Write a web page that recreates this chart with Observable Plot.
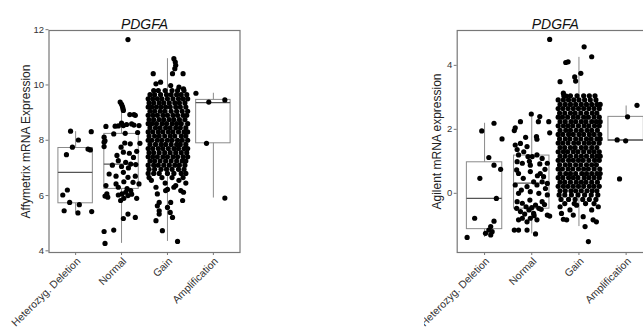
<!DOCTYPE html>
<html>
<head>
<meta charset="utf-8">
<script src="https://cdn.jsdelivr.net/npm/d3@7"></script>
<script src="https://cdn.jsdelivr.net/npm/@observablehq/plot@0.6"></script>
<style>
  html, body { margin: 0; padding: 0; background: #fff; }
  body { width: 643px; height: 334px; overflow: hidden; position: relative; }
  .panel { position: absolute; top: 0; overflow: hidden; height: 334px; }
  .panel svg { max-width: none !important; }
</style>
</head>
<body>
<div id="left" class="panel" style="left:0px;width:250px;"></div>
<div id="right" class="panel" style="left:424px;width:219px;"></div>
<script>
const categories = ["Heterozyg. Deletion", "Normal", "Gain", "Amplification"];
const title = "PDGFA";

// ---------- Affymetrix panel ----------
const affyTicks = [4, 6, 8, 10, 12];
const affyQ1  = [5.72, 6.24, 7.30, 7.89];
const affyMed = [6.84, 7.14, 8.00, 9.36];
const affyQ3  = [7.72, 8.23, 8.70, 9.46];
const affyLo  = [5.37, 4.27, 4.34, 5.91];
const affyHi  = [8.31, 9.38, 10.95, 9.70];

// points: [offset from category centre, value]
const affyHet = [[-0.11,8.33],[0.34,8.31],[0.06,8.01],[-0.20,7.48],[-0.07,7.75],[0.27,7.68],[0.32,7.65],
  [-0.28,6.02],[-0.18,6.20],[-0.13,5.75],[0.08,5.67],[-0.25,5.45],[0.05,5.37],[0.35,5.42]];
const affyNormal = [[0.14,11.64],
  [-0.03,9.38],[0.00,9.30],[0.02,9.22],[0.03,9.15],[0.04,9.08],
  [0.18,8.93],[0.27,8.93],[0.30,8.90],
  [-0.34,8.50],[-0.14,8.51],[-0.07,8.52],[0.04,8.53],[0.11,8.57],[0.22,8.59],[0.38,8.53],[0.27,8.55],[0.00,8.62],
  [-0.17,8.23],[0.08,8.25],[0.35,8.28],
  [-0.38,8.11],[-0.38,7.93],[-0.38,7.77],[-0.36,7.98],
  [-0.01,7.75],[0.19,7.87],[0.40,7.89],[0.07,7.90],
  [0.04,7.57],[0.17,7.53],[0.26,7.38],[-0.10,7.45],[0.33,7.60],
  [-0.07,7.26],[0.09,7.20],[0.20,7.14],[0.31,7.12],[-0.20,7.10],[0.00,7.05],[0.15,7.00],
  [-0.27,6.78],[0.04,6.84],[0.14,6.66],[-0.12,6.70],[0.30,6.70],
  [-0.34,6.36],[-0.12,6.42],[-0.07,6.30],[0.25,6.48],[0.38,6.42],[0.05,6.50],
  [-0.32,6.06],[-0.07,6.02],[0.01,6.06],[0.09,6.12],[0.14,6.00],[0.20,6.18],[0.12,6.25],[0.22,6.05],
  [-0.30,5.94],[-0.02,5.82],[0.33,5.90],[-0.36,5.98],[0.05,5.90],
  [0.14,5.33],[0.04,5.17],[0.30,5.21],
  [-0.38,4.70],[-0.17,4.75],[-0.36,4.27]];
const affyGainScatter = [[0.14,10.95],[0.17,10.83],[0.18,10.71],[0.16,10.59],[0.11,10.41],[-0.31,10.41],[0.34,10.41],
  [-0.25,10.04],[-0.15,10.10],[0.07,9.98],[0.25,9.92],[0.35,9.86],
  [-0.35,6.55],[0.40,6.45],[-0.05,6.45],[0.25,6.55],
  [-0.25,6.30],[-0.22,6.06],[-0.04,6.18],[0.00,6.22],[0.14,6.30],[0.18,6.36],[0.29,6.18],[0.35,6.12],
  [-0.18,5.75],[-0.22,5.63],[0.07,5.75],[0.33,5.82],[-0.18,5.45],[0.00,5.57],[0.06,5.39],[-0.18,5.33],
  [0.11,5.21],[-0.25,5.09],[-0.11,4.73],[0.22,4.34]];
const affyGainRows = [
  [9.80,[-0.30,-0.20,-0.05,0.10,0.22,0.36]],
  [9.65,[-0.38,-0.28,-0.15,-0.02,0.08,0.20,0.30,0.42]],
  [9.50,[-0.42,-0.32,-0.22,-0.12,0.00,0.12,0.24,0.34,0.44]],
  [9.35,[-0.40,-0.30,-0.18,-0.08,0.04,0.16,0.26,0.38]],
  [9.20,[-0.42,-0.34,-0.24,-0.14,-0.04,0.06,0.18,0.28,0.40]],
  [9.05,[-0.38,-0.28,-0.16,-0.06,0.08,0.20,0.32,0.44]],
  [8.90,[-0.42,-0.32,-0.22,-0.10,0.00,0.12,0.22,0.34,0.42]],
  [8.75,[-0.40,-0.30,-0.18,-0.08,0.04,0.14,0.26,0.38]],
  [8.60,[-0.42,-0.34,-0.24,-0.12,-0.02,0.10,0.20,0.30,0.44]],
  [8.45,[-0.38,-0.26,-0.16,-0.04,0.06,0.18,0.28,0.40]],
  [8.30,[-0.42,-0.32,-0.20,-0.10,0.02,0.12,0.24,0.36,0.44]],
  [8.15,[-0.40,-0.28,-0.18,-0.06,0.06,0.16,0.30,0.40]],
  [8.00,[-0.42,-0.34,-0.22,-0.12,0.00,0.10,0.22,0.32,0.44]],
  [7.85,[-0.38,-0.26,-0.14,-0.04,0.08,0.20,0.28,0.40]],
  [7.70,[-0.42,-0.32,-0.20,-0.10,0.02,0.14,0.24,0.36,0.44]],
  [7.55,[-0.40,-0.30,-0.18,-0.06,0.06,0.18,0.30,0.42]],
  [7.40,[-0.42,-0.32,-0.22,-0.10,0.00,0.12,0.22,0.34,0.44]],
  [7.25,[-0.38,-0.28,-0.16,-0.04,0.08,0.20,0.32,0.40]],
  [7.10,[-0.42,-0.30,-0.20,-0.08,0.04,0.16,0.26,0.38]],
  [6.95,[-0.40,-0.28,-0.14,-0.02,0.10,0.24,0.36]],
  [6.80,[-0.42,-0.30,-0.18,0.00,0.14,0.30,0.40]],
  [6.65,[-0.40,-0.12,0.10,0.34]]];
const affyAmp = [[-0.38,9.70],[-0.10,9.38],[0.25,9.46],[-0.15,7.89],[0.25,5.91]];

// ---------- Agilent panel ----------
const agilTicks = [0, 2, 4];
const agilQ1  = [-1.12, -0.48, 0.55, 1.64];
const agilMed = [-0.16, 0.32, 1.35, 1.67];
const agilQ3  = [0.97, 1.18, 2.05, 2.39];
const agilLo  = [-1.38, -1.27, -1.04, 1.64];
const agilHi  = [2.19, 2.48, 4.25, 2.73];

const agilHet = [[-0.37,-1.38],[-0.06,1.95],[0.20,2.19],[0.37,1.70],[0.09,1.12],[-0.10,0.47],[0.20,0.88],[0.34,0.75],
  [0.25,-0.16],[-0.21,-0.78],[0.20,-0.87],[0.13,-1.04],[0.09,-1.15],[0.02,-1.25],[0.13,-1.30],[0.16,-1.20]];
const agilNormal = [[0.38,4.81],
  [-0.01,2.48],[0.17,2.40],[0.14,2.24],[0.36,2.24],[-0.24,2.24],[-0.35,2.05],[-0.37,1.96],[0.38,1.89],
  [0.10,1.77],[0.11,1.69],[-0.13,1.75],[-0.24,1.56],[-0.35,1.51],[-0.31,1.37],[-0.10,1.46],[-0.17,1.30],
  [-0.28,1.20],[-0.08,1.15],[0.01,1.15],[0.11,1.20],[0.22,1.09],[-0.05,1.00],
  [-0.31,0.99],[-0.20,0.94],[-0.03,0.88],[0.17,0.92],[0.33,0.94],[0.28,0.75],
  [-0.32,0.73],[-0.28,0.62],[-0.03,0.68],[0.18,0.62],[0.25,0.52],[0.12,0.55],
  [-0.18,0.47],[0.04,0.36],[0.22,0.36],[0.33,0.31],
  [-0.35,0.26],[-0.10,0.21],[0.11,0.26],[0.29,0.15],[-0.22,0.10],
  [-0.28,0.00],[-0.03,0.05],[0.15,0.00],[0.33,-0.05],
  [-0.31,-0.26],[-0.20,-0.31],[-0.04,-0.21],[0.08,-0.37],[0.22,-0.26],[0.27,-0.35],
  [-0.32,-0.47],[-0.24,-0.57],[-0.06,-0.52],[0.04,-0.63],[0.15,-0.47],[0.33,-0.68],[0.38,-0.71],
  [0.00,-0.45],[-0.12,-0.42],[0.20,-0.50],[0.05,-0.70],[-0.15,-0.65],
  [-0.28,-0.83],[-0.20,-0.78],[-0.10,-0.89],[-0.03,-0.78],[0.11,-0.83],
  [-0.37,-1.15],[-0.28,-1.15],[-0.10,-1.15],[0.08,-1.27]];
const agilGainScatter = [[0.11,4.58],[0.27,4.27],[-0.28,4.09],[-0.23,4.11],[-0.09,3.64],[0.04,3.75],[-0.07,3.51],
  [-0.40,3.49],[-0.33,3.13],[-0.27,3.04],
  [-0.33,-0.81],[-0.26,-0.83],[-0.37,-0.63],[-0.12,-0.68],[0.13,-1.04],[0.20,-1.51],[0.30,-0.83],[0.37,-0.89],
  [0.09,-0.73],[-0.19,-0.52],[0.27,-0.52],[0.41,-0.42],[-0.40,-0.42],[-0.05,-0.37]];
const agilGainRows = [
  [3.05,[-0.32,-0.18,-0.04,0.10,0.22,0.34]],
  [2.92,[-0.44,-0.33,-0.22,-0.11,0.00,0.12,0.24,0.36]],
  [2.78,[-0.40,-0.29,-0.18,-0.07,0.05,0.16,0.27,0.38,0.45]],
  [2.65,[-0.44,-0.34,-0.23,-0.12,-0.01,0.10,0.21,0.32,0.43]],
  [2.51,[-0.41,-0.30,-0.18,-0.08,0.04,0.16,0.28,0.38]],
  [2.38,[-0.44,-0.35,-0.24,-0.12,-0.02,0.10,0.20,0.32,0.43]],
  [2.24,[-0.40,-0.29,-0.17,-0.07,0.05,0.15,0.27,0.37,0.45]],
  [2.11,[-0.44,-0.33,-0.23,-0.13,-0.01,0.11,0.21,0.33,0.43]],
  [1.97,[-0.40,-0.28,-0.18,-0.06,0.05,0.17,0.27,0.39]],
  [1.84,[-0.44,-0.34,-0.22,-0.12,0.00,0.10,0.22,0.32,0.44]],
  [1.70,[-0.41,-0.29,-0.19,-0.07,0.04,0.16,0.26,0.38,0.45]],
  [1.57,[-0.44,-0.34,-0.23,-0.11,-0.01,0.11,0.21,0.31,0.43]],
  [1.43,[-0.40,-0.30,-0.18,-0.08,0.05,0.15,0.27,0.38]],
  [1.30,[-0.44,-0.33,-0.24,-0.12,-0.02,0.10,0.22,0.32,0.43]],
  [1.16,[-0.40,-0.29,-0.18,-0.06,0.05,0.16,0.28,0.38,0.45]],
  [1.03,[-0.44,-0.34,-0.22,-0.12,-0.01,0.09,0.21,0.33,0.43]],
  [0.89,[-0.41,-0.29,-0.19,-0.07,0.04,0.16,0.27,0.37]],
  [0.76,[-0.44,-0.35,-0.23,-0.13,-0.01,0.10,0.20,0.32,0.44]],
  [0.62,[-0.40,-0.28,-0.18,-0.07,0.06,0.16,0.27,0.38,0.45]],
  [0.49,[-0.44,-0.34,-0.22,-0.12,-0.02,0.11,0.21,0.32,0.43]],
  [0.35,[-0.40,-0.30,-0.18,-0.06,0.05,0.15,0.27,0.39]],
  [0.22,[-0.44,-0.33,-0.23,-0.12,-0.01,0.10,0.22,0.32,0.43]],
  [0.08,[-0.40,-0.29,-0.17,-0.07,0.05,0.17,0.28,0.38]],
  [-0.05,[-0.42,-0.30,-0.16,-0.02,0.12,0.26,0.40]],
  [-0.19,[-0.38,-0.22,-0.08,0.08,0.22,0.36]],
  [-0.32,[-0.30,-0.10,0.14,0.32]]];
const agilAmp = [[0.23,2.75],[0.03,2.39],[-0.19,1.67],[-0.01,1.64],[-0.14,0.45]];

// ---------- helpers ----------
const toPts = (ci, arr) => arr.map(([d, v]) => ({x: ci + d, y: v}));
const fromRows = (ci, rows) => rows.flatMap(([v, ds]) => ds.map(d => ({x: ci + d, y: v})));
const FONT = "'Liberation Sans', Arial, Helvetica, sans-serif";

function panel({width, marginLeft, marginRight, yDomain, yTicks, yLabel, labelDx, points, q1, med, q3, lo, hi}) {
  const idx = [0, 1, 2, 3];
  const hw = 0.375;
  return Plot.plot({
    width, height: 334,
    marginLeft, marginRight, marginTop: 30, marginBottom: 82,
    style: {fontFamily: FONT, background: "transparent", color: "#333", maxWidth: "none"},
    x: {domain: [-0.58, 3.58]},
    y: {domain: yDomain},
    marks: [
      Plot.ruleX(idx, {x: i => i, y1: i => lo[i], y2: i => hi[i], stroke: "#8a8a8a", strokeWidth: 1}),
      Plot.rect(idx, {x1: i => i - hw, x2: i => i + hw, y1: i => q1[i], y2: i => q3[i], fill: "white", stroke: "#8a8a8a", strokeWidth: 1}),
      Plot.ruleY(idx, {y: i => med[i], x1: i => i - hw, x2: i => i + hw, stroke: "#555", strokeWidth: 1.2}),
      Plot.dot(points, {x: "x", y: "y", r: 2.6, fill: "#000", stroke: "none"}),
      Plot.frame({stroke: "#777", strokeWidth: 1.2}),
      Plot.axisY(yTicks, {tickSize: 3, tickPadding: 2, fontSize: 9.5, label: null, stroke: "#777"}),
      Plot.axisX(idx, {tickSize: 3, tickFormat: () => "", label: null, stroke: "#777"}),
      Plot.axisX(idx, {tickFormat: i => categories[i], tickRotate: -45, tickSize: 0, tickPadding: 4, dx: 3, dy: 3, fontSize: 10.5, label: null}),
      Plot.text([yLabel], {frameAnchor: "left", textAnchor: "middle", rotate: -90, dx: labelDx, fontSize: 12, fill: "#222"}),
      Plot.text([title], {frameAnchor: "top", textAnchor: "middle", dy: -11, fontSize: 14, fontStyle: "italic", fill: "#111"})
    ]
  });
}

const affyPoints = [
  ...toPts(0, affyHet), ...toPts(1, affyNormal),
  ...fromRows(2, affyGainRows), ...toPts(2, affyGainScatter), ...toPts(3, affyAmp)];
const agilPoints = [
  ...toPts(0, agilHet), ...toPts(1, agilNormal),
  ...fromRows(2, agilGainRows), ...toPts(2, agilGainScatter), ...toPts(3, agilAmp)];

document.getElementById("left").append(panel({
  width: 250, marginLeft: 48.5, marginRight: 10.5,
  yDomain: [3.94, 11.97], yTicks: affyTicks, yLabel: "Affymetrix mRNA Expression", labelDx: -22.8,
  points: affyPoints, q1: affyQ1, med: affyMed, q3: affyQ3, lo: affyLo, hi: affyHi
}));
document.getElementById("right").append(panel({
  width: 240, marginLeft: 32.7, marginRight: 11,
  yDomain: [-1.85, 5.09], yTicks: agilTicks, yLabel: "Agilent mRNA expression", labelDx: -19.7,
  points: agilPoints, q1: agilQ1, med: agilMed, q3: agilQ3, lo: agilLo, hi: agilHi
}));
</script>
</body>
</html>
